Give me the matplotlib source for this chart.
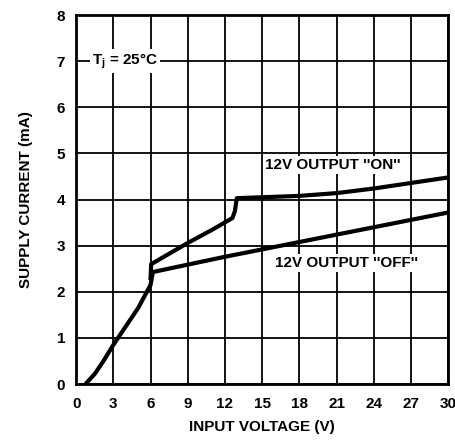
import matplotlib
matplotlib.use("Agg")
import matplotlib.pyplot as plt
import numpy as np

plt.rcParams['font.family'] = ['Liberation Sans', 'DejaVu Sans']
plt.rcParams['font.weight'] = 'bold'
plt.rcParams['axes.labelweight'] = 'bold'

# rising part, below 6 V
v_low = [0.75, 1.5, 2.2, 3.0, 4.0, 5.0, 5.6, 6.0, 6.2]
i_low = [0.0, 0.22, 0.5, 0.85, 1.25, 1.65, 1.95, 2.15, 2.45]

# 12V output "ON"
v_on = [6.0, 6.05, 9.0, 11.0, 12.6, 12.8, 12.95, 15.0, 18.0, 21.0, 24.0, 27.0, 30.0]
i_on = [2.3, 2.6, 3.06, 3.35, 3.6, 3.75, 4.03, 4.05, 4.08, 4.14, 4.24, 4.36, 4.48]

# 12V output "OFF"
v_off = [6.2, 9.0, 12.0, 15.0, 18.0, 21.0, 24.0, 27.0, 30.0]
i_off = [2.43, 2.59, 2.76, 2.92, 3.08, 3.24, 3.4, 3.56, 3.72]

x_ticks = [0, 3, 6, 9, 12, 15, 18, 21, 24, 27, 30]
y_ticks = [0, 1, 2, 3, 4, 5, 6, 7, 8]

fig = plt.figure(figsize=(4.56, 4.43), dpi=100)
ax = fig.add_axes([0.167, 0.133, 0.816, 0.833])

ax.plot(v_low, i_low, 'k-', lw=3, solid_capstyle='butt')
ax.plot(v_on, i_on, 'k-', lw=3)
ax.plot(v_off, i_off, 'k-', lw=3)

ax.set_xlim(0, 30)
ax.set_ylim(0, 8)
ax.set_xticks(x_ticks)
ax.set_yticks(y_ticks)
ax.tick_params(length=0, labelsize=11, pad=9)
ax.tick_params(axis='y', pad=8)
ax.grid(True, color='k', lw=1.3)
ax.set_axisbelow(True)
for s in ax.spines.values():
    s.set_linewidth(2)

ax.set_xlabel('INPUT VOLTAGE (V)', fontsize=11, labelpad=7)
ax.set_ylabel('SUPPLY CURRENT (mA)', fontsize=11, labelpad=17)

box = dict(facecolor='white', edgecolor='none', pad=1.5)
ax.text(1.3, 7.0, r'T$_\mathregular{j}$ = 25°C', fontsize=11,
        va='center', ha='left', bbox=box)
ax.text(15.2, 4.75, "12V OUTPUT ''ON''", fontsize=11,
        va='center', ha='left', bbox=box)
ax.text(16.0, 2.62, "12V OUTPUT ''OFF''", fontsize=11,
        va='center', ha='left', bbox=box)

fig.savefig('out.png', dpi=100)
